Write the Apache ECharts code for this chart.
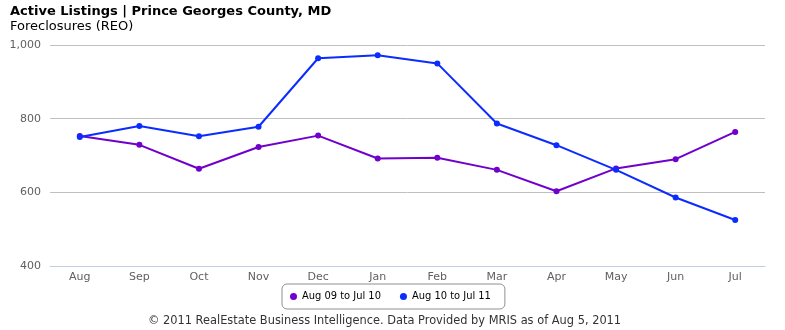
<!DOCTYPE html>
<html>
<head>
<meta charset="utf-8">
<script src="https://cdn.jsdelivr.net/npm/echarts@6/dist/echarts.min.js"></script>
<style>
  html, body { margin: 0; padding: 0; background: #fff; }
  #chart { width: 785px; height: 330px; }
</style>
</head>
<body>
<div id="chart"></div>
<script>
// Monthly active REO foreclosure listings, Prince Georges County
const months = ['Aug', 'Sep', 'Oct', 'Nov', 'Dec', 'Jan', 'Feb', 'Mar', 'Apr', 'May', 'Jun', 'Jul'];
const seriesNames = ['Aug 09 to Jul 10', 'Aug 10 to Jul 11'];
const prevYear = [753, 729, 664, 723, 754, 692, 694, 661, 603, 665, 690, 764];
const currYear = [750, 780, 752, 778, 964, 972, 950, 787, 728, 661, 586, 525];
const yTicks = { min: 400, max: 1000, step: 200 };

const chart = echarts.init(document.getElementById('chart'), null, { renderer: 'canvas' });

const font = 'DejaVu Sans, sans-serif';
const narrowFont = '"DejaVu Sans Condensed", "DejaVu Sans", sans-serif';

chart.setOption({
  animation: false,
  backgroundColor: '#ffffff',
  title: [
    {
      text: 'Active Listings | Prince Georges County, MD',
      subtext: 'Foreclosures (REO)',
      left: 10, top: 5,
      padding: 0,
      itemGap: 2,
      textStyle: { fontFamily: font, fontSize: 13, fontWeight: 'bold', color: '#000' },
      subtextStyle: { fontFamily: font, fontSize: 13, color: '#000' }
    },
    {
      text: '\u00a9 2011 RealEstate Business Intelligence. Data Provided by MRIS as of Aug 5, 2011',
      left: 148, top: 316,
      padding: 0,
      textStyle: { fontFamily: font, fontSize: 11.4, fontWeight: 'normal', color: '#333' }
    }
  ],
  legend: {
    data: seriesNames,
    left: 282,
    top: 284,
    icon: 'circle',
    itemWidth: 7, itemHeight: 7,
    itemGap: 19,
    padding: [7, 14, 7, 8],
    borderColor: '#909090',
    borderWidth: 1,
    borderRadius: 5,
    textStyle: { fontFamily: narrowFont, fontSize: 11, color: '#000', padding: [0, 0, 0, 0] }
  },
  grid: { left: 50, right: 20, top: 45, height: 221, containLabel: false },
  xAxis: {
    type: 'category',
    data: months,
    boundaryGap: true,
    axisLine: { lineStyle: { color: '#c0d0e0' } },
    axisTick: { show: false },
    axisLabel: { fontFamily: font, fontSize: 11, color: '#606060', margin: 6 }
  },
  yAxis: {
    type: 'value',
    min: yTicks.min, max: yTicks.max, interval: yTicks.step,
    axisLine: { show: false },
    axisTick: { show: false },
    splitLine: { lineStyle: { color: '#c0c0c0' } },
    axisLabel: {
      fontFamily: font, fontSize: 11, color: '#606060', margin: 9,
      formatter: v => v.toLocaleString('en-US')
    }
  },
  series: [
    {
      name: seriesNames[0], type: 'line', data: prevYear,
      color: '#7000cc',
      symbol: 'circle', symbolSize: 6,
      lineStyle: { width: 2 }
    },
    {
      name: seriesNames[1], type: 'line', data: currYear,
      color: '#0a2cff',
      symbol: 'circle', symbolSize: 6,
      lineStyle: { width: 2 }
    }
  ]
});
</script>
</body>
</html>
